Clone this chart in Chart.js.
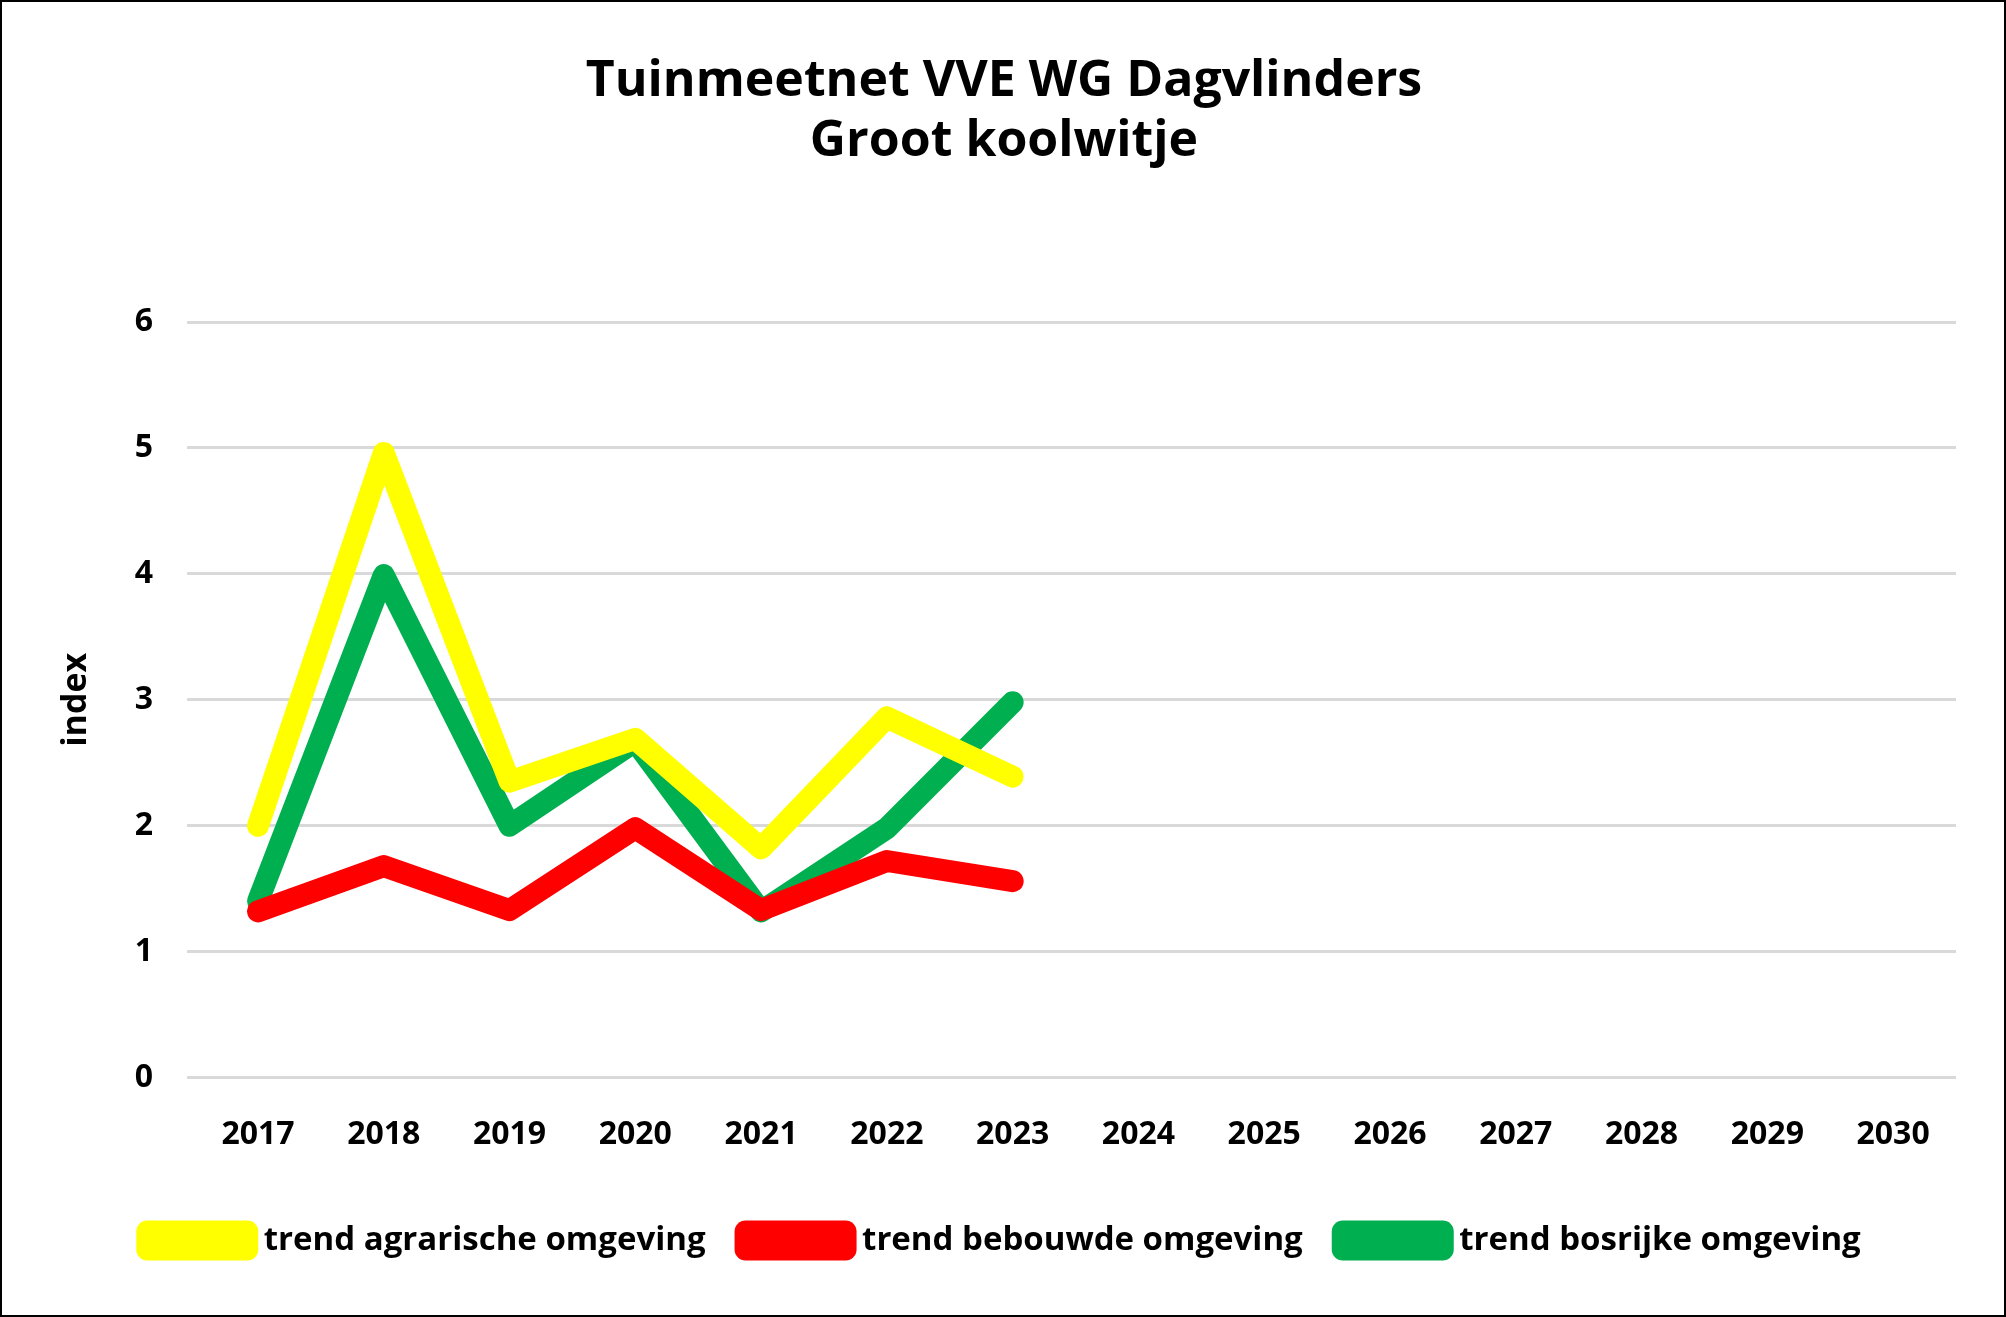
<!DOCTYPE html>
<html>
<head>
<meta charset="utf-8">
<script src="https://cdn.jsdelivr.net/npm/chart.js@4"></script>
<style>
  html, body { margin: 0; padding: 0; background: white; }
  #wrap { position: absolute; left: 0; top: 0; width: 2002px; height: 1313px; border: 2px solid black; }
</style>
</head>
<body>
<div id="wrap"><canvas id="chart" width="2002" height="1313"></canvas></div>
<script>
const years = ["2017","2018","2019","2020","2021","2022","2023","2024","2025","2026","2027","2028","2029","2030"]
const agrarisch = [2.0, 4.96, 2.35, 2.69, 1.82, 2.86, 2.39]
const bebouwd = [1.32, 1.68, 1.33, 1.98, 1.33, 1.72, 1.56]
const bosrijk = [1.40, 3.99, 2.0, 2.67, 1.32, 1.98, 2.98]
const yTicks = [0, 1, 2, 3, 4, 5, 6]

const font = "'Open Sans', 'Liberation Sans', sans-serif"

function series(label, data, color){
    return {
        label: label,
        data: data,
        borderColor: color,
        backgroundColor: color,
        borderWidth: 22,
        pointRadius: 0,
        borderCapStyle: "round",
        borderJoinStyle: "round",
        tension: 0
    }
}

new Chart(document.getElementById("chart").getContext("2d"), {
    type: "line",
    data: {
        labels: years,
        datasets: [
            series("trend agrarische omgeving", agrarisch, "#FFFF00"),
            series("trend bebouwde omgeving", bebouwd, "#FF0000"),
            series("trend bosrijke omgeving", bosrijk, "#00B050")
        ]
    },
    options: {
        responsive: false,
        animation: false,
        layout: { padding: { left: 50, right: 48, top: 40, bottom: 48 } },
        scales: {
            x: {
                offset: true,
                grid: { display: false },
                border: { display: false },
                ticks: { color: "black", font: { family: font, size: 32, weight: "bold" }, padding: 30 }
            },
            y: {
                min: 0, max: 6,
                afterBuildTicks: axis => { axis.ticks = yTicks.map(v => ({ value: v })) },
                grid: { color: "#d9d9d9", lineWidth: 3 },
                border: { display: false },
                ticks: { color: "black", font: { family: font, size: 32, weight: "bold" }, padding: 34 },
                title: { display: true, text: "index", color: "black", font: { family: font, size: 34, weight: "bold" } }
            }
        },
        plugins: {
            title: {
                display: true,
                text: ["Tuinmeetnet VVE WG Dagvlinders", "Groot koolwitje"],
                color: "black",
                font: { family: font, size: 50, weight: "bold" },
                lineHeight: 1.6,
                padding: { top: 10, bottom: 150 }
            },
            legend: {
                position: "bottom",
                labels: {
                    color: "black",
                    font: { family: font, size: 33, weight: "bold" },
                    boxWidth: 100,
                    boxHeight: 18,
                    padding: 40
                }
            },
            tooltip: { enabled: false }
        }
    }
})
</script>
</body>
</html>
